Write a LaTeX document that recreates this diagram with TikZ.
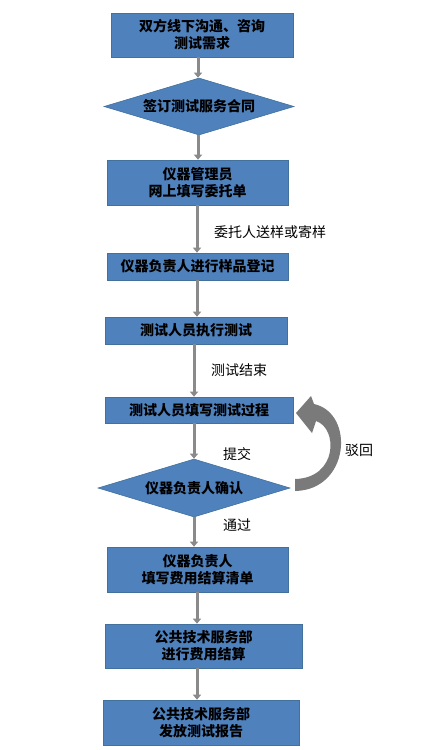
\documentclass[tikz,border=0pt]{standalone}
\usepackage{fontspec}
\newfontfamily\cjk{Noto Sans CJK SC}
\usetikzlibrary{shapes.geometric,arrows.meta}
\definecolor{boxblue}{HTML}{4F81BD}
\definecolor{boxedge}{HTML}{41719C}
\definecolor{arrgray}{HTML}{8A8A8A}
\definecolor{curvegray}{HTML}{7A7A7A}
\begin{document}
\begin{tikzpicture}[x=1pt,y=-1pt,
  stepbox/.style={draw=boxedge,line width=0.6pt,fill=boxblue,inner sep=0pt,align=center,
    font=\cjk\bfseries\fontsize{14}{17}\selectfont,text=black},
  decbox/.style={shape=diamond,draw=boxedge,line width=0.6pt,fill=boxblue,inner sep=0pt,
    aspect=3.3,font=\cjk\bfseries\fontsize{14}{17}\selectfont,text=black},
  lbl/.style={font=\cjk\fontsize{14}{17}\selectfont,text=black,inner sep=0pt},
  arr/.style={draw=arrgray,line width=3pt,-{Triangle[width=8pt,length=5pt]}}]
\useasboundingbox[fill=white] (0,0) rectangle (430,750);
\node[stepbox,minimum width=182pt,minimum height=44pt] (b1) at (202,35) {双方线下沟通、咨询\\测试需求};
\node[decbox,minimum width=190pt,minimum height=57pt] (d1) at (199,106.5) {签订测试服务合同};
\node[stepbox,minimum width=181pt,minimum height=45pt] (b3) at (197.5,182.5) {仪器管理员\\网上填写委托单};
\node[stepbox,minimum width=181pt,minimum height=27pt] (b4) at (197.5,266.5) {仪器负责人进行样品登记};
\node[stepbox,minimum width=182pt,minimum height=27pt] (b5) at (196,330.5) {测试人员执行测试};
\node[stepbox,minimum width=188pt,minimum height=26pt] (b6) at (199,410) {测试人员填写测试过程};
\node[decbox,minimum width=192pt,minimum height=58pt] (d2) at (194,488) {仪器负责人确认};
\node[stepbox,minimum width=181pt,minimum height=45pt] (b7) at (197.5,569.5) {仪器负责人\\填写费用结算清单};
\node[stepbox,minimum width=197pt,minimum height=44pt] (b8) at (203.5,646) {公共技术服务部\\进行费用结算};
\node[stepbox,minimum width=196pt,minimum height=45pt] (b9) at (201,722.5) {公共技术服务部\\发放测试报告};

\node[lbl] (l1) at (270,232) {委托人送样或寄样};
\node[lbl] (l2) at (239,370) {测试结束};
\node[lbl] (l3) at (237,454) {提交};
\node[lbl] (l4) at (359,450) {驳回};
\node[lbl] (l5) at (237,525) {通过};

\coordinate (a1) at (198,0);
\draw[arr] (b1.south -| a1) -- (d1.north -| a1);
\draw[arr] (d1.south -| a1) -- (b3.north -| a1);
\coordinate (a2) at (197,0);
\draw[arr] (b3.south -| a2) -- (b4.north -| a2);
\draw[arr] (b4.south -| a2) -- (b5.north -| a2);
\coordinate (a3) at (194,0);
\draw[arr] (b5.south -| a3) -- (b6.north -| a3);
\draw[arr] (b6.south -| d2.north) -- (d2.north);
\draw[arr] (d2.south) -- (b7.north -| d2.south);
\coordinate (a5) at (197,0);
\draw[arr] (b7.south -| a5) -- (b8.north -| a5);
\draw[arr] (b8.south -| a5) -- (b9.north -| a5);

% curved return arrow
\fill[curvegray] (295,491) .. controls (350,490) and (355,413) .. (314,404)
  -- (311,396) -- (296,413) -- (312,433) -- (316,421)
  .. controls (338,428) and (338,478) .. (295,479) -- cycle;
\end{tikzpicture}
\end{document}
